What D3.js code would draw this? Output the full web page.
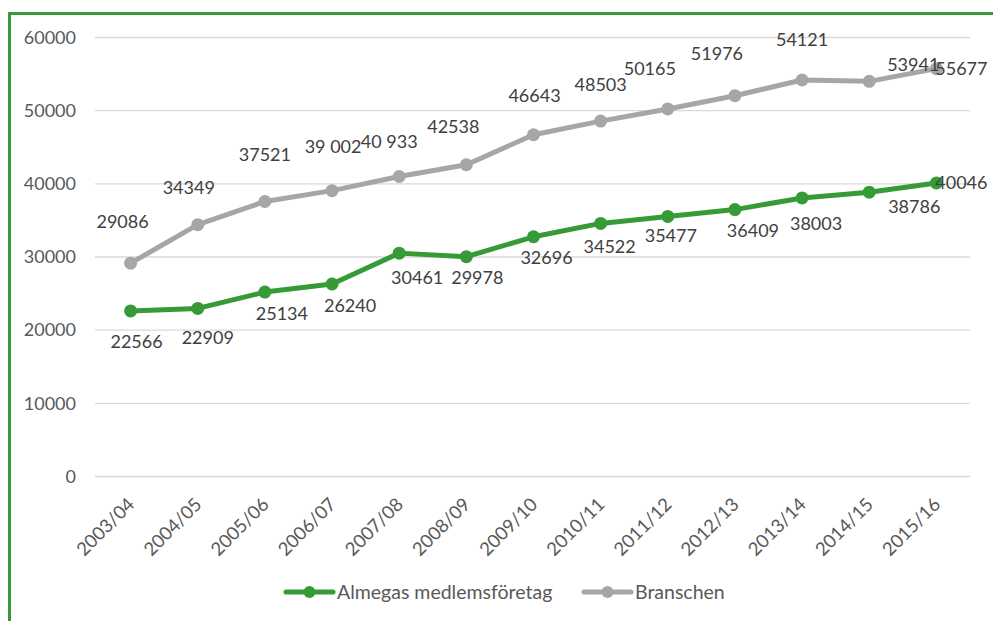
<!DOCTYPE html>
<html>
<head>
<meta charset="utf-8">
<script src="https://cdn.jsdelivr.net/npm/d3@7"></script>
<style>
  html, body { margin: 0; padding: 0; background: #fff; }
  svg { display: block; }
  text { font-family: Lato, "Open Sans", sans-serif; fill: #595959; }
</style>
</head>
<body>
<svg id="chart" width="993" height="621"></svg>
<script>
// ---- data ----
const categories = ["2003/04","2004/05","2005/06","2006/07","2007/08","2008/09","2009/10","2010/11","2011/12","2012/13","2013/14","2014/15","2015/16"];
const almegas   = [22566,22909,25134,26240,30461,29978,32696,34522,35477,36409,38003,38786,40046];
const branschen = [29086,34349,37521,39002,40933,42538,46643,48503,50165,51976,54121,53941,55677];
const branschenLabels = ["29086","34349","37521","39 002","40 933","42538","46643","48503","50165","51976","54121","53941","55677"];
const almegasLabels = almegas.map(String);
const yTicks = [0,10000,20000,30000,40000,50000,60000];
const seriesNames = ["Almegas medlemsföretag","Branschen"];

// ---- layout (label offsets relative to point, px) ----
const grayLabelOffsets = [[-8,-41],[-9,-37],[0,-47],[1,-44],[-10,-35],[-13,-38],[1,-39],[0,-36],[-18,-40],[-18,-42],[0,-40],[44,-17],[25,0]];
const greenLabelOffsets = [[6,31],[10,29],[17,22],[18,22],[18,25],[11,21],[13,21],[9,23],[3,19],[18,21],[14,26],[45,14],[25,0]];

const GREEN = "#369b36", GRAY = "#a6a6a6";
const svg = d3.select("#chart");

// frame
svg.append("rect").attr("x",9.5).attr("y",13.5).attr("width",1100).attr("height",800)
  .attr("fill","none").attr("stroke",GREEN).attr("stroke-width",3);

const x = d3.scalePoint().domain(categories).range([130.6, 936.4]);
const y = d3.scaleLinear().domain([0,60000]).range([476,37]);

// gridlines + y labels
const yAxis = d3.axisLeft(y).tickValues(yTicks).tickSize(0).tickPadding(19).tickFormat(d => String(d));
const gy = svg.append("g").attr("transform","translate(95,0)").call(yAxis);
gy.select(".domain").remove();
gy.selectAll(".tick line").attr("stroke","#d9d9d9").attr("stroke-width",1.3).attr("x1",0).attr("x2",875);
gy.selectAll(".tick text").attr("font-size",18).style("fill","#595959").attr("x",-19).attr("dy","0.35em");

// x axis labels
const xAxis = d3.axisBottom(x).tickSize(0).tickPadding(0);
const gx = svg.append("g").attr("transform","translate(0,476)").call(xAxis);
gx.select(".domain").remove();
gx.selectAll(".tick text")
  .attr("font-size",18.5).style("fill","#595959")
  .attr("text-anchor","end")
  .attr("x",0).attr("y",0).attr("dy","0.35em")
  .attr("transform","translate(0,25) rotate(-45)");

// lines
const line = d3.line().x((d,i) => x(categories[i])).y(d => y(d));
function drawSeries(vals, color, labels, offsets) {
  svg.append("path").datum(vals).attr("d", line)
    .attr("fill","none").attr("stroke",color).attr("stroke-width",5).attr("stroke-linejoin","round");
  svg.selectAll(null).data(vals).enter().append("circle")
    .attr("cx",(d,i)=>x(categories[i])).attr("cy",d=>y(d)).attr("r",6.5).attr("fill",color);
  svg.selectAll(null).data(vals).enter().append("text")
    .attr("x",(d,i)=>x(categories[i]) + offsets[i][0])
    .attr("y",(d,i)=>y(d) + offsets[i][1])
    .attr("dy","0.35em").attr("text-anchor","middle").attr("font-size",18)
    .style("fill","#404040")
    .text((d,i)=>labels[i]);
}
drawSeries(branschen, GRAY, branschenLabels, grayLabelOffsets);
drawSeries(almegas, GREEN, almegasLabels, greenLabelOffsets);

// legend
const legend = [{name: seriesNames[0], color: GREEN, x0: 286},{name: seriesNames[1], color: GRAY, x0: 584}];
const lg = svg.append("g").attr("transform","translate(0,592)");
legend.forEach(l => {
  lg.append("line").attr("x1",l.x0).attr("x2",l.x0+47).attr("y1",0).attr("y2",0)
    .attr("stroke",l.color).attr("stroke-width",5).attr("stroke-linecap","round");
  lg.append("circle").attr("cx",l.x0+23.5).attr("cy",0).attr("r",6).attr("fill",l.color);
  lg.append("text").attr("x",l.x0+51).attr("y",0).attr("dy","0.35em").attr("font-size",19.5)
    .style("fill","#595959").text(l.name);
});
</script>
</body>
</html>
